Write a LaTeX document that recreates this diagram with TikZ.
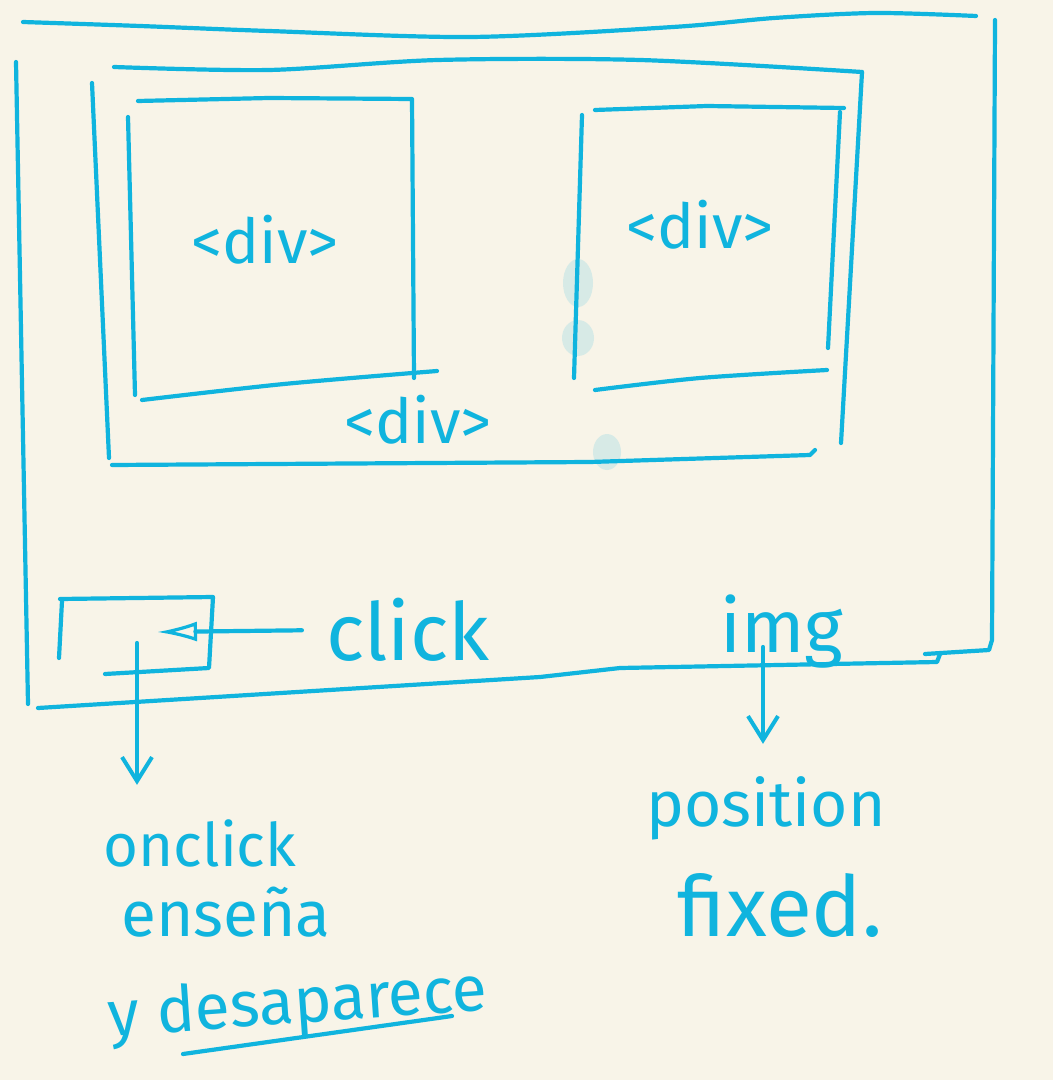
\documentclass[tikz,border=0pt]{standalone}
\usepackage{fontspec}
\setmainfont{Fira Sans}
\usetikzlibrary{arrows.meta,calc}
\definecolor{paper}{RGB}{248,244,232}
\definecolor{inkc}{RGB}{16,180,222}
\tikzset{
  ink/.style={draw=inkc, line width=2.1pt, line cap=round, line join=round},
  lbl/.style={text=inkc, inner sep=0pt, anchor=center},
  openhead/.style={-{Latex[open,length=20pt,width=10pt,line width=1.6pt]}},
  barbhead/.style={-{Straight Barb[length=12pt,width=15pt,line width=2pt]}},
  stain/.style={fill=inkc, fill opacity=0.14, draw=none}
}
\newcommand{\fs}[1]{\fontsize{#1}{#1}\selectfont}
\begin{document}
\begin{tikzpicture}[x=0.5pt,y=-0.5pt]
  % sheet
  \fill[paper] (0,0) rectangle (1053,1080);
  \useasboundingbox (0,0) rectangle (1053,1080);

  % faded ink spots
  \fill[stain] (578,283) ellipse (15 and 24);
  \fill[stain] (578,338) ellipse (16 and 18);
  \fill[stain] (607,452) ellipse (14 and 18);

  % outer frame (the page)
  \draw[ink] plot[smooth] coordinates {(23,22) (140,26) (269,31) (471,37) (673,27) (774,18) (875,13) (976,16)};
  \draw[ink] (995,20) -- (992,640) -- (989,650) -- (925,654);
  \draw[ink] (940,654) -- (937,662) -- (620,668) -- (540,677) -- (38,708);
  \draw[ink] (16,62) -- (28,704);

  % container div
  \draw[ink] plot[smooth] coordinates {(114,67) (269,70) (438,60) (640,60) (862,72)};
  \draw[ink] (862,72) -- (841,443);
  \draw[ink] (92,83) -- (109,458);
  \draw[ink] (112,465) -- (590,462) -- (810,455) -- (815,450);

  % left inner div
  \draw[ink] (138,101) -- (269,98) -- (412,99) -- (414,378);
  \draw[ink] (128,117) -- (135,395);
  \draw[ink] plot[smooth] coordinates {(142,400) (284,384) (437,371)};

  % right inner div
  \draw[ink] (595,110) -- (707,106) -- (844,108);
  \draw[ink] (840,112) -- (828,348);
  \draw[ink] (582,115) -- (574,378);
  \draw[ink] plot[smooth] coordinates {(595,390) (700,378) (827,370)};

  % small clickable box
  \draw[ink] (60,599) -- (213,597) -- (209,668) -- (105,674);
  \draw[ink] (62,601) -- (59,658);

  % labels
  \node[lbl, font=\fs{31}] (divL) at (265,240) {<div>};
  \node[lbl, font=\fs{31}] (divR) at (700,225) {<div>};
  \node[lbl, font=\fs{31}] (divC) at (418,420) {<div>};
  \node[lbl, font=\fs{40}] (click) at (408,630) {click};
  \node[lbl, font=\fs{37}] (img) at (782,632) {img};
  \node[lbl, font=\fs{32}] (position) at (766,808) {position};
  \node[lbl, font=\fs{42}] (fixed) at (780,905) {fixed.};
  \node[lbl, font=\fs{30}] (onclick) at (200,843) {onclick};
  \node[lbl, font=\fs{32}] (ensena) at (226,912) {enseña};
  \node[lbl, font=\fs{32}, rotate=4] (desap) at (298,1006) {y desaparece};
  \draw[ink] (183,1054) -- (452,1016);

  % connectors
  \coordinate (clkTip) at (157,632);
  \coordinate (boxFoot) at (137,643);
  \coordinate (imgFoot) at (763,647);
  \draw[ink, openhead, shorten <=12pt] (click.west) -- (clkTip);
  \draw[ink, barbhead, shorten >=17pt] (boxFoot) -- (onclick.north -| boxFoot);
  \draw[ink, barbhead, shorten >=16pt] (imgFoot) -- (position.north -| imgFoot);
\end{tikzpicture}
\end{document}
